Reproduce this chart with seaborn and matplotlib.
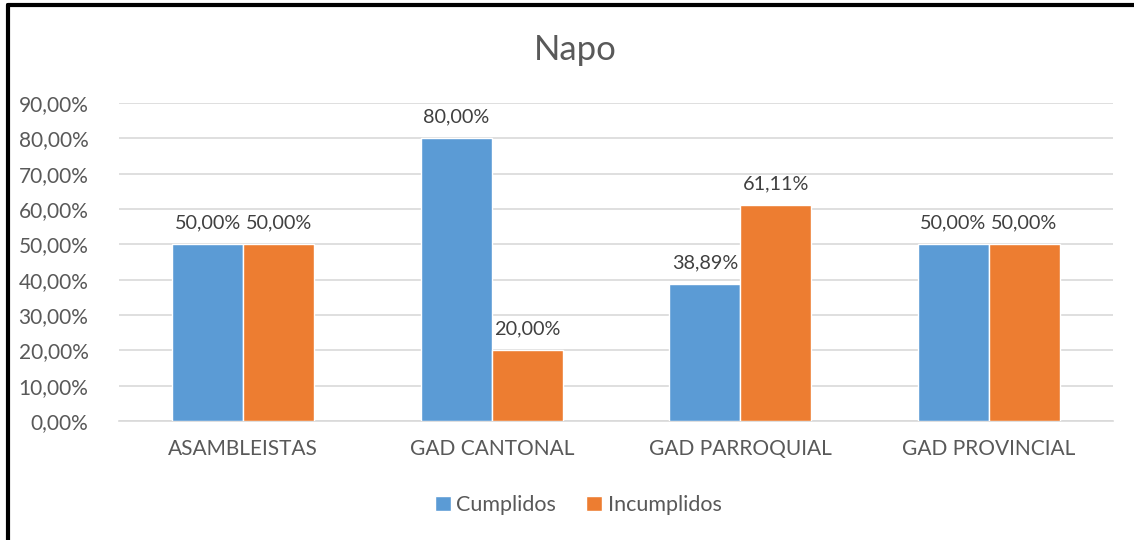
import pandas as pd
import seaborn as sns
import matplotlib.pyplot as plt
from matplotlib.lines import Line2D
from matplotlib.ticker import FuncFormatter

# data
categorias = ['ASAMBLEISTAS', 'GAD CANTONAL', 'GAD PARROQUIAL', 'GAD PROVINCIAL']
cumplidos = [50.00, 80.00, 38.89, 50.00]
incumplidos = [50.00, 20.00, 61.11, 50.00]
series = ['Cumplidos', 'Incumplidos']
colores = ['#5B9BD5', '#ED7D31']

df = pd.DataFrame({
    'categoria': categorias * 2,
    'serie': [series[0]] * 4 + [series[1]] * 4,
    'valor': cumplidos + incumplidos,
})

sns.set_style('white')
plt.rcParams['font.family'] = ['Lato', 'DejaVu Sans']
gris = '#595959'

fig = plt.figure(figsize=(11.34, 5.4), dpi=100)
ax = fig.add_axes([119 / 1134, 1 - 421 / 540, (1113 - 119) / 1134, (421 - 103) / 540])

sns.barplot(data=df, x='categoria', y='valor', hue='serie', palette=colores,
            width=0.57, gap=0, saturation=1, ax=ax, zorder=3)

ax.set_ylim(0, 90)
ax.set_yticks(range(0, 91, 10))
ax.yaxis.set_major_formatter(FuncFormatter(lambda v, p: f'{v:.2f}%'.replace('.', ',')))
ax.grid(axis='y', color='#D9D9D9', linewidth=1.2, zorder=0)
for s in ['top', 'right', 'left']:
    ax.spines[s].set_visible(False)
ax.spines['bottom'].set_color('#D9D9D9')
ax.spines['bottom'].set_linewidth(1.2)
ax.tick_params(axis='y', length=0, labelsize=15, colors=gris, pad=22)
ax.tick_params(axis='x', length=0, labelsize=15, colors=gris, pad=13)
ax.set_xlabel('')
ax.set_ylabel('')

for cont in ax.containers:
    ax.bar_label(cont, labels=[f'{v:.2f}%'.replace('.', ',') for v in cont.datavalues],
                 padding=9, fontsize=14.3, color='#404040')

ax.legend(handles=ax.get_legend_handles_labels()[0], labels=series,
          loc='center', bbox_to_anchor=(578 / 1134, 1 - 505 / 540), bbox_transform=fig.transFigure,
          ncol=2, frameon=False, fontsize=15.5, labelcolor=gris,
          handlelength=0.75, handleheight=0.75, handletextpad=0.25, columnspacing=1.4)

fig.text(575 / 1134, 1 - 50 / 540, 'Napo', ha='center', va='center', fontsize=25, color=gris)

# frame visible on the left and top edges
fig.add_artist(Line2D([8 / 1134, 8 / 1134], [0, 1 - 5 / 540], transform=fig.transFigure,
                      color='black', linewidth=3))
fig.add_artist(Line2D([8 / 1134, 1], [1 - 5 / 540, 1 - 5 / 540], transform=fig.transFigure,
                      color='black', linewidth=3))

fig.savefig('out.png', dpi=100)
